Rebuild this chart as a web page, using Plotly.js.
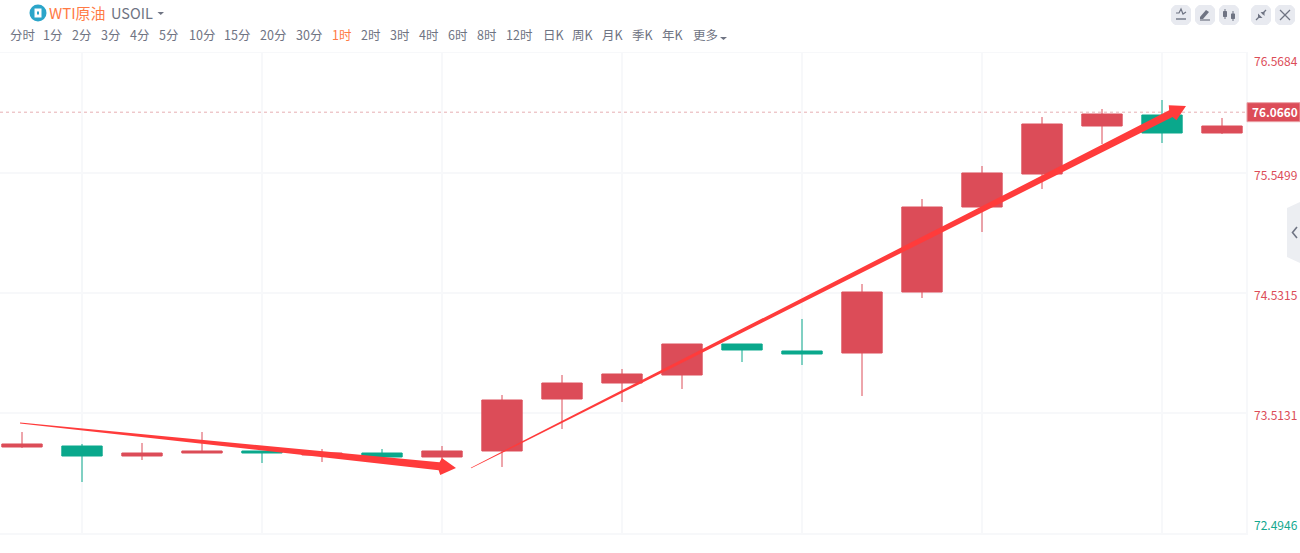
<!DOCTYPE html>
<html>
<head>
<meta charset="utf-8">
<script src="https://cdn.plot.ly/plotly-3.0.1.min.js"></script>
<style>html,body{margin:0;padding:0;background:#fff;overflow:hidden}#c{width:1300px;height:553px}</style>
</head>
<body>
<div id="c"></div>
<script>
// ---- data ----
const barIndex = [0,1,2,3,4,5,6,7,8,9,10,11,12,13,14,15,16,17,18,19,20];
const openVals  = [73.2245,73.1481,73.1481,73.1736,73.1736,73.1566,73.1397,73.1397,73.1906,73.6319,73.7677,73.8356,74.0478,74.0138,74.0223,74.5400,75.2614,75.5415,75.9488,75.8894,75.8894];
const closeVals = [73.2500,73.2330,73.1736,73.1906,73.1906,73.1736,73.1736,73.1906,73.6234,73.7677,73.8441,74.0987,74.0987,74.0393,74.5400,75.2614,75.5500,75.9658,76.0507,76.0422,75.9488];
const highVals  = [73.3518,73.2500,73.2585,73.3518,73.1906,73.2075,73.2075,73.2330,73.6658,73.8356,73.8865,74.0987,74.0987,74.3109,74.6079,75.3293,75.6094,76.0252,76.0931,76.1695,76.0168];
const lowVals   = [73.2160,72.9275,73.1142,73.1736,73.0887,73.0972,73.1227,73.0887,73.0548,73.3773,73.6064,73.7168,73.9459,73.9205,73.6574,74.4891,75.0492,75.4142,75.7961,75.8046,75.8810];
// swap so that green candles fall (open above close)
const greenBars = [1,4,6,12,13,19];
const gridPrices = [76.5684,75.5499,74.5315,73.5131,72.4946];
const gridLabels = ['76.5684','75.5499','74.5315','73.5131','72.4946'];
const gridLabelShift = [-7,-1,-1,-2,9];
const lastPrice = 76.0660;
const lastPriceLabel = '76.0660';
const arrowTailX = [-0.033,7.483];
const arrowTailY = [73.4282,73.0463];
const arrowHeadX = [7.233,19.4];
const arrowHeadY = [73.0463,76.1186];
const arrowShaftEnd = [8,7.5];
const periodLabels = ['分时','1分','2分','3分','4分','5分','10分','15分','20分','30分','1时','2时','3时','4时','6时','8时','12时','日K','周K','月K','季K','年K','更多'];
const periodLeft = [9,42,71,100,129,158,188,223,259,295,331,360,389,418,447,476,505,542,571,601,631,661,692];
const activePeriod = '1时';

// ---- colours and frame ----
const RED='#dc4c58', GREEN='#0aa88c', ORANGE='#ff7a45', GREY='#6f7483', BTN='#e8eaf0', GRID='#f7f8fa', ARROW='#ff3b3b';
const plotL=0, plotR=1246, plotT=53, plotB=533;
const W=plotR-plotL, H=plotB-plotT;
const px=x=>(x-plotL)/W, py=y=>(plotB-y)/H;
const xPer=60, yPer=H/(gridPrices[0]-gridPrices[4]);
const FONT='"Noto Sans CJK SC","Noto Sans",sans-serif';

const o=openVals.slice(), c=closeVals.slice();
greenBars.forEach(i=>{o[i]=closeVals[i];c[i]=openVals[i];});

const traces=[{
  type:'candlestick',x:barIndex,open:o,close:c,high:highVals,low:lowVals,
  whiskerwidth:0,hoverinfo:'skip',showlegend:false,
  increasing:{line:{color:RED,width:1},fillcolor:RED},
  decreasing:{line:{color:GREEN,width:1},fillcolor:GREEN}
}];

// tapered arrows, built in pixel space from the tail and head values
arrowTailX.forEach((_,k)=>{
  const dx=(arrowHeadX[k]-arrowTailX[k])*xPer, dy=(arrowHeadY[k]-arrowTailY[k])*yPer;
  const len=Math.hypot(dx,dy), ux=dx/len, uy=dy/len, nx=-uy, ny=ux;
  const back=17, barb=8.5, shaft=arrowShaftEnd[k]/2, tail=0.4;
  const pts=[[-len,tail],[-back,shaft],[-back+2,barb],[0,0],[-back+2,-barb],[-back,-shaft],[-len,-tail]];
  const X=[],Y=[];
  pts.forEach(p=>{
    X.push(arrowHeadX[k]+(ux*p[0]+nx*p[1])/xPer);
    Y.push(arrowHeadY[k]+(uy*p[0]+ny*p[1])/yPer);
  });
  traces.push({type:'scatter',x:X,y:Y,mode:'lines',fill:'toself',fillcolor:ARROW,line:{width:0,color:ARROW},hoverinfo:'skip',showlegend:false});
});

const ann=[];
const text=(t,x,y,size,color,extra)=>ann.push(Object.assign({text:t,xref:'paper',yref:'paper',x:px(x),y:py(y),xanchor:'left',yanchor:'middle',showarrow:false,borderpad:0,font:{family:FONT,size:size,color:color}},extra||{}));
periodLabels.forEach((t,i)=>text(t,periodLeft[i],35,12.5,t===activePeriod?ORANGE:GREY));
text('WTI原油',48,12.5,15,ORANGE);
text('USOIL',109.5,12.5,14.5,GREY);
gridPrices.forEach((p,i)=>ann.push({text:gridLabels[i],xref:'paper',yref:'y',x:px(1253),y:p,yshift:gridLabelShift[i],xanchor:'left',yanchor:'middle',showarrow:false,borderpad:0,font:{family:FONT,size:12,color:i===4?'#14a88f':RED}}));
ann.push({text:'<b>'+lastPriceLabel+'</b>',xref:'paper',yref:'y',x:px(1275),y:lastPrice,yshift:1,xanchor:'center',yanchor:'middle',showarrow:false,borderpad:0,font:{family:FONT,size:11.8,color:'#fff'}});

const shapes=[];
const P=(d,fill,line,lw)=>shapes.push({type:'path',xref:'paper',yref:'paper',path:d,fillcolor:fill||'rgba(0,0,0,0)',line:{color:line||'rgba(0,0,0,0)',width:lw||0},layer:'above'});
const pth=a=>a.map((q,i)=>(i?'L':'M')+px(q[0])+','+py(q[1])).join(' ');
const poly=(a,fill)=>P(pth(a)+' Z',fill);
const stroke=(a,color,w)=>P(pth(a),null,color,w||1.4);
const rr=(x0,y0,x1,y1,r,fill)=>{
  const n=r*0.45;
  poly([[x0+r,y0],[x1-r,y0],[x1-n,y0+n],[x1,y0+r],[x1,y1-r],[x1-n,y1-n],[x1-r,y1],[x0+r,y1],[x0+n,y1-n],[x0,y1-r],[x0,y0+r],[x0+n,y0+n]],fill);
};
const circle=(cx,cy,r,fill)=>shapes.push({type:'circle',xref:'paper',yref:'paper',x0:px(cx-r),x1:px(cx+r),y0:py(cy-r),y1:py(cy+r),fillcolor:fill,line:{width:0},layer:'above'});

// last price line and tag
shapes.push({type:'line',xref:'paper',yref:'y',x0:0,x1:1,y0:lastPrice,y1:lastPrice,line:{color:'#e6aeb3',width:1,dash:'3px,3px'},layer:'below'});
shapes.push({type:'rect',xref:'paper',yref:'y',x0:px(1247),x1:px(1300),y0:lastPrice-9.5/yPer,y1:lastPrice+9.5/yPer,fillcolor:RED,line:{width:1,color:'#eaa0a6'},layer:'above'});

// logo and carets
circle(38,13,8.5,'#2ba5c9');
poly([[34.5,8.5],[41.5,8.5],[41.5,17.5],[34.5,17.5]],'#fff');
poly([[37,11.5],[39,11.5],[39,14.5],[37,14.5]],'#2ba5c9');
poly([[157.5,12],[164,12],[160.75,15]],GREY);
poly([[720,37],[727,37],[723.5,40]],GREY);

// tool buttons
[1171,1195,1219,1251,1275].forEach(x=>rr(x,5,x+20,25,4,BTN));
stroke([[1176,13],[1179,13],[1181,9],[1183,14],[1186,12]],GREY,1.2);
stroke([[1176,19],[1186,19]],GREY,1.4);
poly([[1200,17],[1206,10],[1209,12],[1203,19],[1200,19]],GREY);
stroke([[1200,20],[1210,20]],GREY,1.2);
stroke([[1225,9],[1225,19]],GREY,1); rr(1223,11,1227,17,0.5,GREY);
stroke([[1233,11],[1233,21]],GREY,1); rr(1231,13.5,1235,19,0.5,GREY);
stroke([[1256,20],[1260,16]],GREY,1.2); poly([[1258,13.5],[1262.5,18],[1258,18]],GREY);
stroke([[1266,10],[1262,14]],GREY,1.2); poly([[1260.5,12],[1264.5,12],[1264.5,16]],GREY);
stroke([[1280,10],[1290,20]],GREY,1.2);
stroke([[1290,10],[1280,20]],GREY,1.2);

// side tab
poly([[1300,202],[1287,208],[1287,257],[1300,263]],'#eceef2');
stroke([[1297,227],[1292.5,232.5],[1297,238]],GREY,1.6);

const layout={
  width:1300,height:553,paper_bgcolor:'#fff',plot_bgcolor:'#fff',showlegend:false,dragmode:false,
  boxgap:0.18,boxgroupgap:0.18,
  margin:{l:plotL,r:1300-plotR,t:plotT,b:553-plotB,pad:0},
  xaxis:{type:'linear',range:[(plotL-22)/xPer,(plotR-22)/xPer],rangeslider:{visible:false},tickmode:'array',tickvals:[1,4,7,10,13,16,19],showticklabels:false,ticks:'',showgrid:true,gridcolor:GRID,gridwidth:1.5,zeroline:false,showline:true,mirror:true,linecolor:GRID,linewidth:1.5},
  yaxis:{side:'right',range:[gridPrices[4],gridPrices[0]],tickmode:'array',tickvals:gridPrices,showticklabels:false,ticks:'',showgrid:true,gridcolor:GRID,gridwidth:1.5,zeroline:false,showline:true,linecolor:GRID,linewidth:1.5},
  annotations:ann,shapes:shapes
};
Plotly.newPlot('c',traces,layout,{displayModeBar:false,staticPlot:true});
</script>
</body>
</html>
